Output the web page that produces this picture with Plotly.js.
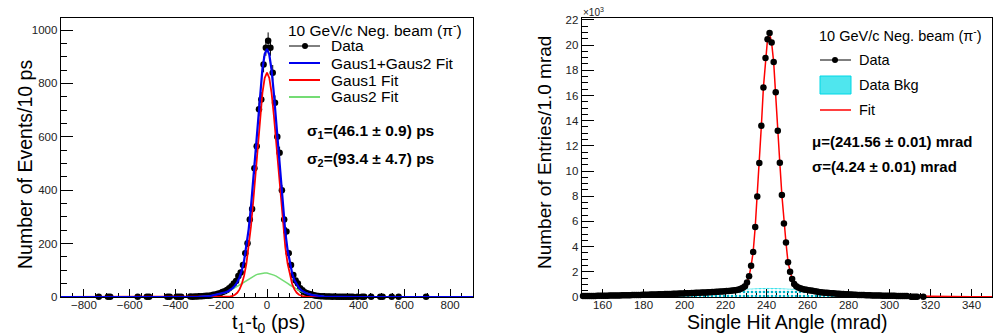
<!DOCTYPE html>
<html><head><meta charset="utf-8">
<script src="https://cdn.plot.ly/plotly-3.0.1.min.js"></script>
<style>html,body{margin:0;padding:0;background:#fff}#chart{width:995px;height:336px}</style>
</head><body><div id="chart"></div>
<script>
// ---------- Left panel: t1 - t0 (ps), 10 ps bins ----------
const tBins = [-735,-695,-685,-565,-525,-515,-435,-425,-395,-385,-375,
  -335,-325,-315,-305,-295,-285,-275,-265,-255,-245,-235,-225,-215,-205,-195,-185,-175,-165,-155,-145,-135,-125,-115,-105,-95,-85,-75,-65,-55,-45,-35,-25,-15,-5,
  5,15,25,35,45,55,65,75,85,95,105,115,125,135,145,155,165,175,185,195,205,215,225,235,245,255,265,275,285,295,305,315,325,335,345,355,365,375,
  395,415,425,455,495,505,545,575,695];
const tCounts = [1,1,1,1,1,1,1,1,1,1,1,
  2,1,2,2,3,3,4,5,5,6,8,9,12,14,19,22,26,33,40,51,60,79,92,120,164,201,290,330,482,565,703,740,871,934,
  960,934,840,728,600,540,400,290,245,164,120,82,62,51,33,25,18,14,11,9,7,5,4,3,3,2,2,2,1,2,1,1,1,1,1,1,1,1,
  1,1,1,1,1,1,1,1,1];
// fit curves sampled on a grid (ps)
const fitGrid = [-900,-400,-350,-300,-250,-200,-190,-180,-170,-160,-150,-140,-130,-120,-110,-100,-90,-80,-70,-60,-50,-40,-30,-20,-10,
  0,10,20,30,40,50,60,70,80,90,100,110,120,130,140,150,160,170,180,190,200,250,300,350,400,900];
const gaus1Fit = [0,0,0,0,0,0.1,0.2,0.4,0.9,2.0,4.2,8.3,15.8,28.4,48.7,79.9,124.9,186.4,265.2,360.1,466.5,576.5,679.7,764.6,820.4,
  840,820.4,764.6,679.7,576.5,466.5,360.1,265.2,186.4,124.9,79.9,48.7,28.4,15.8,8.3,4.2,2.0,0.9,0.4,0.2,0.1,0,0,0,0,0];
const gaus2Fit = [0,0.02,0.12,0.73,3.3,11.4,14.1,17.2,20.8,24.8,29.3,34.2,39.4,45.0,50.7,56.6,62.4,68.0,73.2,78.0,82.1,85.5,88.0,89.5,90.0,
  89.5,88.0,85.5,82.1,78.0,73.2,68.0,62.4,56.6,50.7,45.0,39.4,34.2,29.3,24.8,20.8,17.2,14.1,11.4,9.1,7.2,1.9,0.37,0.05,0,0];
const gaus12Fit = [0,0.02,0.12,0.73,3.3,11.5,14.3,17.6,21.7,26.8,33.5,42.5,55.2,73.4,99.4,136.5,187.3,254.4,338.4,438.1,548.6,662.0,767.7,854.1,910.4,
  929.5,908.4,850.1,761.8,654.5,539.7,428.1,327.6,243.0,175.6,124.9,88.1,62.6,45.1,33.1,25.0,19.2,15.0,11.8,9.3,7.3,1.9,0.37,0.05,0,0];
const tTicks = [-800,-600,-400,-200,0,200,400,600,800];
const nTicks = [0,200,400,600,800,1000];

// ---------- Right panel: single hit angle (mrad), 1 mrad bins ----------
const angBins = [];
for (let b = 150.5; b <= 308.5; b += 1) angBins.push(b);
angBins.push(310.5,311.5,312.5,313.5,316.5);
const angCounts = [
  70,72,75,78,80,83,86,90,93,97,
  100,104,107,110,114,117,121,125,128,132,
  136,140,144,148,152,156,160,164,168,172,
  176,180,185,190,195,200,206,212,218,224,
  230,236,242,248,254,260,266,272,279,286,
  293,300,307,314,321,328,335,342,350,358,
  366,375,384,393,402,412,422,432,443,455,
  467,480,494,510,530,555,600,660,740,
  850,1160,1640,2480,3580,5560,7970,10630,13600,16640,18970,20470,20950,
  20200,18650,16250,13200,10660,8100,5830,4330,2750,2000,1420,1030,
  860,760,690,640,600,575,545,515,490,460,430,405,385,365,345,330,315,300,288,275,262,250,240,230,220,210,
  200,192,184,176,168,161,155,149,143,138,133,128,124,120,116,112,108,105,102,99,
  96,93,90,87,84,82,79,76,74,
  20,18,22,15,12];
const bkgX = [195,200,205,210,215,220,225,230,235,240,245,250,255,260,265,270,275];
const bkgY = [0,80,180,280,380,470,560,620,660,680,670,640,580,480,340,180,0];
const fitAngX = [150,160,170,180,190,200,210,220,225,228.5,229.5,230.5,231.5,232.5,233.5,234.5,235.5,236.5,237.5,238.5,239.5,240.5,241.5,
  242.5,243.5,244.5,245.5,246.5,247.5,248.5,249.5,250.5,251.5,252.5,253.5,254.5,255.5,256.5,260,265,270,280,290,300,310,320,330,340,350];
const fitAngY = [70,100,136,176,230,293,366,467,530,740,850,1160,1640,2480,3580,5560,7970,10630,13600,16640,18970,20470,20950,
  20200,18650,16250,13200,10660,8100,5830,4330,2750,2000,1420,1030,860,760,690,560,420,320,210,140,100,70,50,35,25,15];
const angTicks = [160,180,200,220,240,260,280,300,320,340];
const entTicks = [0,2000,4000,6000,8000,10000,12000,14000,16000,18000,20000,22000];
const entTickText = ['0','2','4','6','8','10','12','14','16','18','20','22'];

const W = 995, H = 336;
const px = x => x / W, py = y => 1 - y / H;
const FONT = 'Liberation Sans, Arial, Helvetica, sans-serif';

const traces = [
  {x: tBins, y: tCounts, type: 'scatter', mode: 'markers', xaxis: 'x', yaxis: 'y',
   marker: {color: '#000', size: 6.5}, cliponaxis: false,
   error_y: {type: 'data', array: tCounts.map(Math.sqrt), color: '#000', thickness: 1, width: 0}},
  {x: fitGrid, y: gaus2Fit, type: 'scatter', mode: 'lines', xaxis: 'x', yaxis: 'y', line: {color: '#74dc74', width: 1.5}},
  {x: fitGrid, y: gaus1Fit, type: 'scatter', mode: 'lines', xaxis: 'x', yaxis: 'y', line: {color: '#ff0000', width: 1.8}},
  {x: fitGrid, y: gaus12Fit, type: 'scatter', mode: 'lines', xaxis: 'x', yaxis: 'y', line: {color: '#0000ee', width: 2.2}},

  {x: bkgX, y: bkgY, type: 'scatter', mode: 'lines', xaxis: 'x2', yaxis: 'y2', line: {color: '#00e5ee', width: 0.5, shape: 'spline'},
   fill: 'tozeroy', fillcolor: '#55f0f5', fillpattern: {shape: '.', fgcolor: '#00b5c8', size: 4, solidity: 0.35}},
  {x: fitAngX, y: fitAngY, type: 'scatter', mode: 'lines', xaxis: 'x2', yaxis: 'y2', line: {color: '#ff0000', width: 1.5}},
  {x: angBins, y: angCounts, type: 'scatter', mode: 'markers', xaxis: 'x2', yaxis: 'y2',
   marker: {color: '#000', size: 6.5}, cliponaxis: false}
];

const axBase = {showgrid: false, zeroline: false, showline: true, linecolor: '#000', linewidth: 1.3, mirror: true,
  ticks: 'inside', tickcolor: '#000', tickwidth: 1, layer: 'below traces',
  tickfont: {family: FONT, size: 11.5, color: '#222'}};

const layout = {
  width: W, height: H, margin: {l: 0, r: 0, t: 0, b: 0}, showlegend: false,
  paper_bgcolor: '#fff', plot_bgcolor: '#fff', font: {family: FONT, color: '#000'},
  xaxis: Object.assign({}, axBase, {domain: [px(61), px(473)], range: [-900, 900], anchor: 'y',
    tickmode: 'array', tickvals: tTicks, ticklen: 8, ticklabelstandoff: -3,
    minor: {ticks: 'inside', dtick: 50, tick0: 0, ticklen: 4, tickcolor: '#000', tickwidth: 1}}),
  yaxis: Object.assign({}, axBase, {domain: [py(297), py(18)], range: [0, 1045], anchor: 'x',
    tickmode: 'array', tickvals: nTicks, ticklen: 12,
    minor: {ticks: 'inside', dtick: 50, tick0: 0, ticklen: 6, tickcolor: '#000', tickwidth: 1}}),
  xaxis2: Object.assign({}, axBase, {domain: [px(582), px(992)], range: [150, 350], anchor: 'y2',
    tickmode: 'array', tickvals: angTicks, ticklen: 8, ticklabelstandoff: -3,
    minor: {ticks: 'inside', dtick: 5, tick0: 150, ticklen: 4, tickcolor: '#000', tickwidth: 1}}),
  yaxis2: Object.assign({}, axBase, {domain: [py(297), py(18)], range: [0, 22150], anchor: 'x2',
    tickmode: 'array', tickvals: entTicks, ticktext: entTickText, ticklen: 12,
    minor: {ticks: 'inside', dtick: 500, tick0: 0, ticklen: 6, tickcolor: '#000', tickwidth: 1}}),
  annotations: [], shapes: []
};

function txt(text, x, y, opts) {
  layout.annotations.push(Object.assign({text: text, x: px(x), y: py(y), xref: 'paper', yref: 'paper',
    xanchor: 'left', yanchor: 'middle', showarrow: false, font: {family: FONT, size: 15, color: '#000'}}, opts || {}));
}
function lineSample(x0, x1, y, color, w) {
  layout.shapes.push({type: 'line', xref: 'paper', yref: 'paper', x0: px(x0), x1: px(x1), y0: py(y), y1: py(y),
    line: {color: color, width: w}});
}
function dot(x, y) {
  layout.shapes.push({type: 'circle', xref: 'paper', yref: 'paper', x0: px(x - 3), x1: px(x + 3), y0: py(y + 3), y1: py(y - 3),
    fillcolor: '#000', line: {color: '#000', width: 0}});
}

// axis titles
txt('Number of Events/10 ps', 25, 165, {xanchor: 'center', textangle: -90, font: {family: FONT, size: 19.5, color: '#000'}});
txt('t<sub>1</sub>-t<sub>0</sub> (ps)', 268, 323, {xanchor: 'center', font: {family: FONT, size: 20, color: '#000'}});
txt('Number of Entries/1.0 mrad', 545, 153, {xanchor: 'center', textangle: -90, font: {family: FONT, size: 19, color: '#000'}});
txt('Single Hit Angle (mrad)', 787, 322, {xanchor: 'center', font: {family: FONT, size: 19.5, color: '#000'}});
txt('×10<sup>3</sup>', 581, 12, {font: {family: FONT, size: 10, color: '#222'}});

// left legend
txt('10 GeV/c Neg. beam (π<sup>-</sup>)', 286, 29, {font: {family: FONT, size: 15.5, color: '#000'}});
lineSample(289, 320, 46, '#000', 1); dot(305, 46);
txt('Data', 329, 46, {font: {family: FONT, size: 15.5, color: '#000'}});
lineSample(289, 320, 63, '#0000ee', 2);
txt('Gaus1+Gaus2 Fit', 329, 63, {font: {family: FONT, size: 15.5, color: '#000'}});
lineSample(289, 320, 80, '#ff0000', 2);
txt('Gaus1 Fit', 329, 80, {font: {family: FONT, size: 15.5, color: '#000'}});
lineSample(289, 320, 97, '#74dc74', 2);
txt('Gaus2 Fit', 329, 97, {font: {family: FONT, size: 15.5, color: '#000'}});
txt('<b>σ<sub>1</sub>=(46.1 ± 0.9) ps</b>', 305, 132, {font: {family: FONT, size: 15.5, color: '#000'}});
txt('<b>σ<sub>2</sub>=(93.4 ± 4.7) ps</b>', 305, 159, {font: {family: FONT, size: 15.5, color: '#000'}});

// right legend
txt('10 GeV/c Neg. beam (π<sup>-</sup>)', 817, 35, {font: {family: FONT, size: 14.5, color: '#000'}});
lineSample(820, 851, 60, '#000', 1); dot(835, 60);
txt('Data', 857, 60, {font: {family: FONT, size: 14.5, color: '#000'}});
layout.shapes.push({type: 'rect', xref: 'paper', yref: 'paper', x0: px(820), x1: px(851), y0: py(94), y1: py(76),
  fillcolor: '#4fe6ee', line: {color: '#00d8e6', width: 1}});
txt('Data Bkg', 857, 85, {font: {family: FONT, size: 14.5, color: '#000'}});
lineSample(820, 851, 110, '#ff0000', 1.5);
txt('Fit', 857, 110, {font: {family: FONT, size: 14.5, color: '#000'}});
txt('<b>μ=(241.56 ± 0.01) mrad</b>', 810, 141, {font: {family: FONT, size: 15, color: '#000'}});
txt('<b>σ=(4.24 ± 0.01) mrad</b>', 810, 166, {font: {family: FONT, size: 15, color: '#000'}});

Plotly.newPlot('chart', traces, layout, {staticPlot: true, displayModeBar: false});
</script></body></html>
